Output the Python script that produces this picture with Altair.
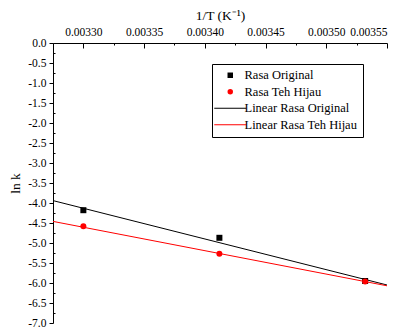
import altair as alt
import pandas as pd

# ---- data ----
inv_T = [0.003300, 0.003412, 0.003532]
lnk_original = [-4.18, -4.87, -5.95]
lnk_teh_hijau = [-4.58, -5.27, -5.96]

fit_x = [0.003275, 0.00355]
fit_original = [-3.94, -6.05]
fit_teh_hijau = [-4.46, -6.07]

series_names = ["Rasa Original", "Rasa Teh Hijau",
                "Linear Rasa Original", "Linear Rasa Teh Hijau"]
series_colors = ["black", "red", "black", "red"]

x_major = [0.00330, 0.00335, 0.00340, 0.00345, 0.00350, 0.00355]
x_minor = [0.003275, 0.003325, 0.003375, 0.003425, 0.003475, 0.003525]
y_major = [0.0, -0.5, -1.0, -1.5, -2.0, -2.5, -3.0, -3.5, -4.0, -4.5,
           -5.0, -5.5, -6.0, -6.5, -7.0]
y_minor = [-0.25, -0.75, -1.25, -1.75, -2.25, -2.75, -3.25, -3.75,
           -4.25, -4.75, -5.25, -5.75, -6.25, -6.75]

# ---- tables ----
pts = pd.DataFrame({
    "x": inv_T + inv_T,
    "y": lnk_original + lnk_teh_hijau,
    "series": [series_names[0]] * len(inv_T) + [series_names[1]] * len(inv_T),
})
fits = pd.DataFrame({
    "x": fit_x + fit_x,
    "y": fit_original + fit_teh_hijau,
    "series": [series_names[2]] * len(fit_x) + [series_names[3]] * len(fit_x),
})

FONT = "Liberation Serif"
LINE_PATH = "M-5.84,-0.18L5.84,-0.18L5.84,0.18L-5.84,0.18Z"

xscale = alt.Scale(domain=[0.003275, 0.00355], nice=False, zero=False)
yscale = alt.Scale(domain=[-7.0, 0.0], nice=False, zero=False)

common_axis = dict(labelFont=FONT, titleFont=FONT, labelColor="black",
                   titleColor="black", domainColor="black", tickColor="black",
                   grid=False, labelFontSize=11.5, titleFontSize=13.5,
                   titleFontWeight="normal")

legend = alt.Legend(
    orient="none", legendX=159, legendY=21, title=None,
    strokeColor="black", fillColor="white", padding=5,
    labelFont=FONT, labelFontSize=12.5, labelColor="black",
    symbolSize=30, symbolOpacity=1, symbolStrokeWidth=0,
    symbolOffset=7, labelOffset=8, rowPadding=3.5,
    labelExpr="datum.label + '\u00a0\u00a0\u00a0'",
)

points = alt.Chart(pts).mark_point(filled=True, size=36, opacity=1).encode(
    x=alt.X("x:Q", scale=xscale, axis=alt.Axis(
        orient="top", values=x_major, format=".5f", ticks=False,
        labelPadding=6, title="1/T (K⁻¹)", titlePadding=4, **common_axis)),
    y=alt.Y("y:Q", scale=yscale, axis=alt.Axis(
        orient="left", values=y_major, tickSize=4, labelPadding=3,
        labelExpr="replace(format(datum.value, '.1f'), '\u2212', '-')",
        title="ln k", titleX=-31, **common_axis)),
    color=alt.Color("series:N", scale=alt.Scale(domain=series_names, range=series_colors),
                    legend=legend),
    shape=alt.Shape("series:N", scale=alt.Scale(
        domain=series_names, range=["square", "circle", LINE_PATH, LINE_PATH]),
        legend=legend),
)

lines = alt.Chart(fits).mark_line(strokeWidth=1).encode(
    x=alt.X("x:Q", scale=xscale, axis=alt.Axis(
        orient="top", values=x_major, offset=-5, tickSize=5, labels=False,
        domain=False, title=None, **common_axis)),
    y=alt.Y("y:Q", scale=yscale, axis=alt.Axis(
        orient="left", values=y_minor, offset=-2, tickSize=2, labels=False,
        domain=False, title=None, **common_axis)),
    stroke=alt.Stroke("series:N", scale=alt.Scale(domain=series_names[2:],
                      range=series_colors[2:]), legend=None),
    detail="series:N",
)

minor_x = alt.Chart(pts).mark_point(opacity=0).encode(
    x=alt.X("x:Q", scale=xscale, axis=alt.Axis(
        orient="top", values=x_minor, offset=-2, tickSize=2, labels=False,
        domain=False, title=None, **common_axis)),
    y=alt.Y("y:Q", scale=yscale, axis=None),
)

chart = alt.layer(lines, points, minor_x).resolve_axis(
    x="independent", y="independent"
).properties(
    width=334, height=280,
    padding={"left": 0, "top": 0, "right": 0, "bottom": 5},
).configure_view(stroke=None)

chart.save("out.html", embed_options={"renderer": "svg", "actions": False})
